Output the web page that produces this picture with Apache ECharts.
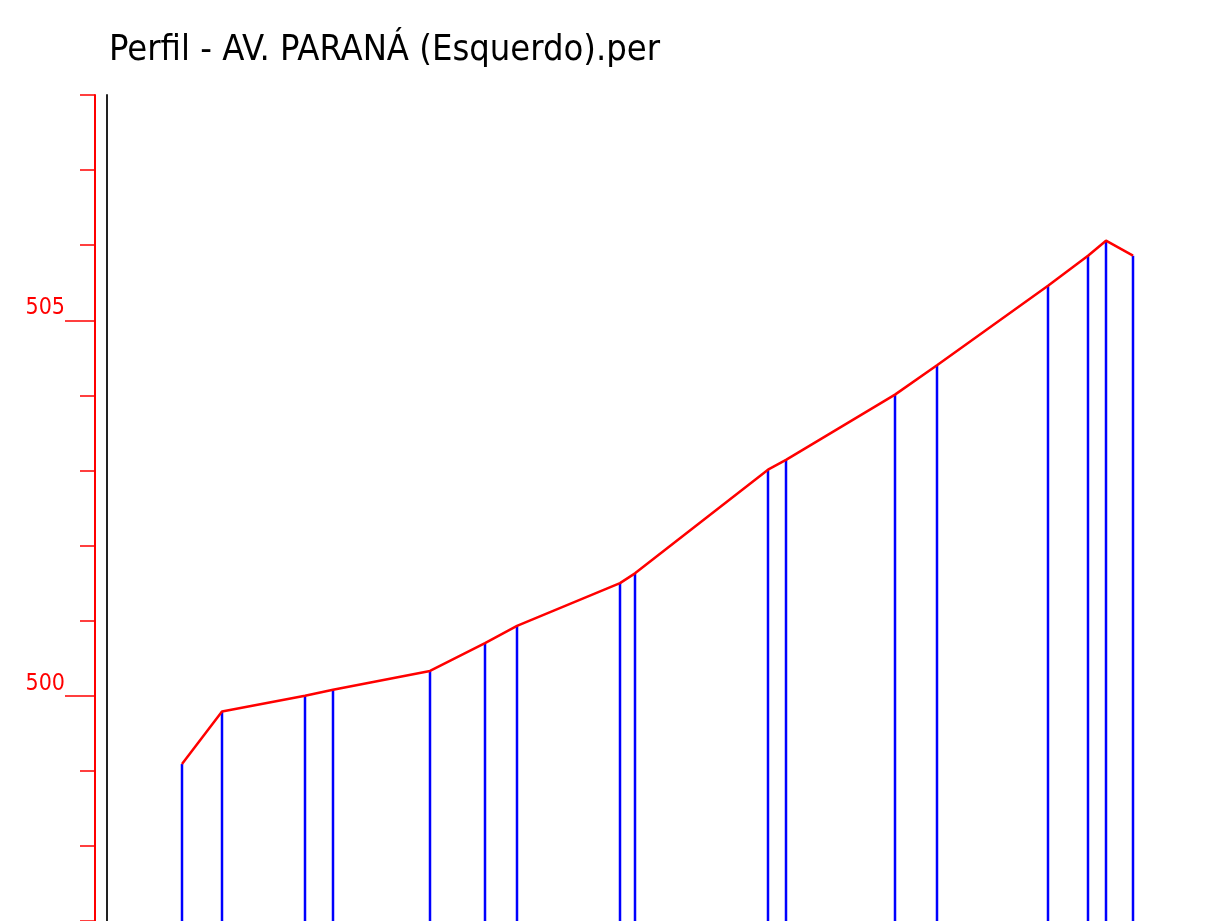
<!DOCTYPE html>
<html>
<head>
<meta charset="utf-8">
<title>Perfil</title>
<script src="https://cdn.jsdelivr.net/npm/echarts@6/dist/echarts.min.js"></script>
<style>
  html, body { margin: 0; padding: 0; background: #fff; }
  #main { width: 1212px; height: 921px; }
</style>
</head>
<body>
<div id="main"></div>
<script>
// stations (distance along the profile) and ground elevations
var stations = [75, 115, 198, 226, 323, 378, 410, 513, 528, 661, 679, 788, 830, 941, 981, 999, 1026];
var elevations = [499.09, 499.79, 500.0, 500.08, 500.33, 500.70, 500.93, 501.50, 501.63,
                  503.01, 503.14, 504.01, 504.40, 505.46, 505.86, 506.06, 505.86];
var labelTicks = [500, 505];

var narrow = 'DejaVu Sans Condensed';

var chartDom = document.getElementById('main');
var myChart = echarts.init(chartDom);

var points = stations.map(function (s, i) { return [s, elevations[i]]; });

var option = {
    animation: false,
    title: {
        text: 'Perfil - AV. PARANÁ (Esquerdo).per',
        left: 104,
        top: 28,
        textStyle: {
            fontFamily: narrow,
            fontWeight: 'normal',
            fontSize: 36,
            color: '#000'
        }
    },
    grid: [
        // red scale sits a bit left of the frame
        { left: 95, top: 95, width: 1, height: 829 },
        { left: 107, top: 95, width: 1100, height: 829 }
    ],
    xAxis: [
        { type: 'value', gridIndex: 0, min: 0, max: 1, show: false },
        { type: 'value', gridIndex: 1, min: 0, max: 1100, show: false }
    ],
    yAxis: [{
        // red scale with minor ticks
        type: 'value',
        gridIndex: 0,
        position: 'left',
        min: 497,
        max: 508,
        interval: 1,
        axisLine: { show: true, lineStyle: { color: '#ff0000', width: 2 } },
        axisTick: { show: true, length: 15, lineStyle: { color: '#ff0000', width: 1.5 } },
        axisLabel: { show: false },
        splitLine: { show: false }
    }, {
        // long ticks + labels at 500 / 505
        type: 'value',
        gridIndex: 0,
        position: 'left',
        offset: 0,
        min: 497,
        max: 508,
        interval: 1,
        axisLine: { show: false },
        axisTick: {
            show: true,
            length: 30,
            customValues: labelTicks,
            lineStyle: { color: '#ff0000', width: 1.5 }
        },
        axisLabel: {
            show: true,
            customValues: labelTicks,
            margin: 30,
            color: '#ff0000',
            fontFamily: narrow,
            fontSize: 23,
            verticalAlign: 'bottom',
            lineHeight: 24
        },
        splitLine: { show: false }
    }, {
        // black frame line
        type: 'value',
        gridIndex: 1,
        position: 'left',
        min: 497,
        max: 508,
        interval: 1,
        axisLine: { show: true, lineStyle: { color: '#222', width: 2 } },
        axisTick: { show: false },
        axisLabel: { show: false },
        splitLine: { show: false }
    }],
    series: [{
        type: 'bar',
        xAxisIndex: 1,
        yAxisIndex: 2,
        data: points,
        barWidth: 2.5,
        itemStyle: { color: '#0000ff' },
        z: 2
    }, {
        type: 'line',
        xAxisIndex: 1,
        yAxisIndex: 2,
        data: points,
        symbol: 'none',
        lineStyle: { color: '#ff0000', width: 2.5 },
        z: 3
    }]
};

option && myChart.setOption(option);
</script>
</body>
</html>
